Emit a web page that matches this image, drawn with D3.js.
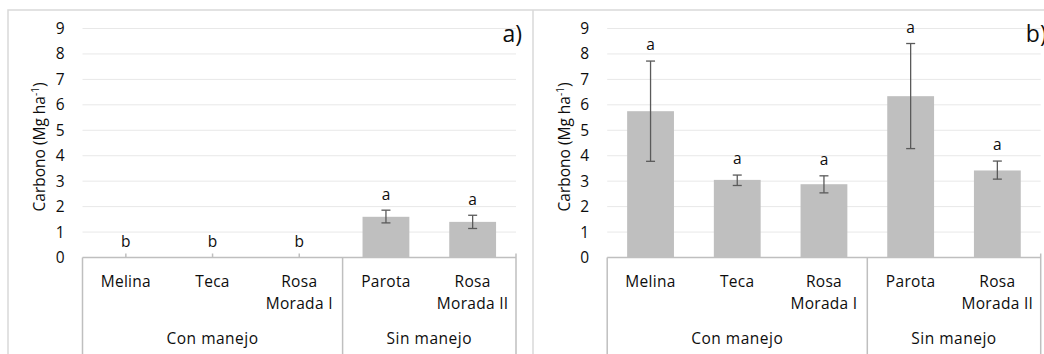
<!DOCTYPE html>
<html>
    <head>
        <meta charset="utf-8">
        <title>Carbono por plantación</title>
        <style>
            body { margin: 0; background: white; }
            svg { display: block; font-family: "Open Sans", sans-serif; }
            .grid line { stroke: #e8e8e8; stroke-width: 1; }
            .frame { stroke: #d9d9d9; stroke-width: 1.5; fill: none; }
            .box { stroke: #bfbfbf; stroke-width: 1.5; fill: none; }
            .bar { fill: #bfbfbf; }
            .err { stroke: #5a5a5a; stroke-width: 1.3; }
            text { fill: #0d0d0d; }
        </style>
    </head>
    <body>
        <svg width="1044" height="354"></svg>

        <script src="https://d3js.org/d3.v7.min.js"></script>
        <script>
            // categories and groups of the multi-level axis
            const categories = ['Melina', 'Teca', 'Rosa Morada I', 'Parota', 'Rosa Morada II'];
            const categoryLines = [['Melina'], ['Teca'], ['Rosa', 'Morada I'], ['Parota'], ['Rosa', 'Morada II']];
            const groups = ['Con manejo', 'Sin manejo'];
            const groupSizes = [3, 2];
            const yTicks = [0, 1, 2, 3, 4, 5, 6, 7, 8, 9];

            // panel a)
            const valuesA = [0, 0, 0, 1.60, 1.40];
            const lowA = [0, 0, 0, 1.36, 1.14];
            const highA = [0, 0, 0, 1.86, 1.66];
            const lettersA = ['b', 'b', 'b', 'a', 'a'];

            // panel b)
            const valuesB = [5.75, 3.05, 2.88, 6.34, 3.42];
            const lowB = [3.78, 2.83, 2.54, 4.28, 3.08];
            const highB = [7.72, 3.24, 3.21, 8.41, 3.79];
            const lettersB = ['a', 'a', 'a', 'a', 'a'];

            const panels = [
                { tag: 'a)', values: valuesA, low: lowA, high: highA, letters: lettersA, dx: 0 },
                { tag: 'b)', values: valuesB, low: lowB, high: highB, letters: lettersB, dx: 524.7 }
            ];

            let svg = d3.select('svg');
            let height = +svg.attr('height');

            // outer chart frames
            svg.append('path')
                .attr('class', 'frame')
                .attr('d', 'M8,' + height + 'V10H1044M533,10V' + height);

            let y = d3.scaleLinear().domain([0, 9]).range([257.5, 28.5]);
            let x = d3.scaleBand()
                .domain(categories)
                .range([82.5, 516])
                .paddingInner(0.46)
                .paddingOuter(0.23);
            let step = x.step();
            let left = x.range()[0], right = x.range()[1];

            for (let p of panels) {
                let g = svg.append('g').attr('transform', 'translate(' + p.dx + ',0)');

                // horizontal gridlines
                g.append('g').attr('class', 'grid')
                    .selectAll('line').data(yTicks.slice(1)).join('line')
                    .attr('x1', left).attr('x2', right)
                    .attr('y1', d => y(d)).attr('y2', d => y(d));

                // y axis tick labels
                let yAxis = d3.axisLeft(y).tickValues(yTicks).tickSize(0).tickPadding(18);
                let ya = g.append('g').attr('transform', 'translate(' + left + ',0)').call(yAxis);
                ya.select('.domain').remove();
                ya.selectAll('text')
                    .attr('font-size', 15.5)
                    .attr('font-family', '"Open Sans", sans-serif')
                    .attr('fill', '#0d0d0d');

                // y axis title
                let title = g.append('text')
                    .attr('transform', 'translate(45,147) rotate(-90)')
                    .attr('text-anchor', 'middle')
                    .attr('font-size', 15.5);
                title.append('tspan').text('Carbono (Mg ha');
                title.append('tspan').attr('font-size', 10).attr('dy', -6).text('-1');
                title.append('tspan').attr('dy', 6).text(')');

                // small category ticks above the baseline
                g.append('g').selectAll('line')
                    .data(categories).join('line')
                    .attr('class', 'box')
                    .attr('x1', d => x(d) + x.bandwidth() / 2)
                    .attr('x2', d => x(d) + x.bandwidth() / 2)
                    .attr('y1', y(0) - 4).attr('y2', y(0));

                // bars
                g.append('g').selectAll('rect')
                    .data(categories).join('rect')
                    .attr('class', 'bar')
                    .attr('x', d => x(d))
                    .attr('width', x.bandwidth())
                    .attr('y', (d, i) => y(p.values[i]))
                    .attr('height', (d, i) => y(0) - y(p.values[i]));

                // error bars
                let eb = g.append('g').selectAll('g')
                    .data(categories.filter((d, i) => p.high[i] > p.low[i])).join('g')
                    .attr('class', 'err');
                let idx = d => categories.indexOf(d);
                let cx = d => x(d) + x.bandwidth() / 2;
                eb.append('line')
                    .attr('x1', cx).attr('x2', cx)
                    .attr('y1', d => y(p.low[idx(d)])).attr('y2', d => y(p.high[idx(d)]));
                eb.append('line')
                    .attr('x1', d => cx(d) - 4.5).attr('x2', d => cx(d) + 4.5)
                    .attr('y1', d => y(p.low[idx(d)])).attr('y2', d => y(p.low[idx(d)]));
                eb.append('line')
                    .attr('x1', d => cx(d) - 4.5).attr('x2', d => cx(d) + 4.5)
                    .attr('y1', d => y(p.high[idx(d)])).attr('y2', d => y(p.high[idx(d)]));

                // significance letters
                g.append('g').selectAll('text')
                    .data(categories).join('text')
                    .attr('x', cx)
                    .attr('y', (d, i) => y(p.high[i]) - 16)
                    .attr('dy', '0.35em')
                    .attr('text-anchor', 'middle')
                    .attr('font-size', 15.5)
                    .text((d, i) => p.letters[i]);

                // multi-level category box
                let bounds = [left];
                let acc = 0;
                for (let s of groupSizes) { acc += s; bounds.push(left + acc * step); }
                g.append('line').attr('class', 'box')
                    .attr('x1', left).attr('x2', right)
                    .attr('y1', y(0)).attr('y2', y(0));
                g.append('g').selectAll('line')
                    .data(bounds).join('line')
                    .attr('class', 'box')
                    .attr('x1', d => d).attr('x2', d => d)
                    .attr('y1', (d, i) => i === bounds.length - 1 ? y(0) - 4 : y(0))
                    .attr('y2', height);

                // category labels
                let cl = g.append('g').selectAll('text')
                    .data(categories).join('text')
                    .attr('text-anchor', 'middle')
                    .attr('font-size', 15.5)
                    .attr('letter-spacing', 0.3);
                cl.selectAll('tspan')
                    .data((d, i) => categoryLines[i].map(t => ({ t: t, c: d })))
                    .join('tspan')
                    .attr('x', d => cx(d.c))
                    .attr('y', (d, j) => 287 + j * 22)
                    .text(d => d.t);

                // group labels
                g.append('g').selectAll('text')
                    .data(groups).join('text')
                    .attr('x', (d, i) => (bounds[i] + bounds[i + 1]) / 2)
                    .attr('y', 344)
                    .attr('text-anchor', 'middle')
                    .attr('font-size', 15.5)
                    .attr('letter-spacing', 0.5)
                    .text(d => d);

                // panel tag
                g.append('text')
                    .attr('x', 522)
                    .attr('y', 42)
                    .attr('text-anchor', 'end')
                    .attr('font-size', 23)
                    .text(p.tag);
            }
        </script>
    </body>
</html>
